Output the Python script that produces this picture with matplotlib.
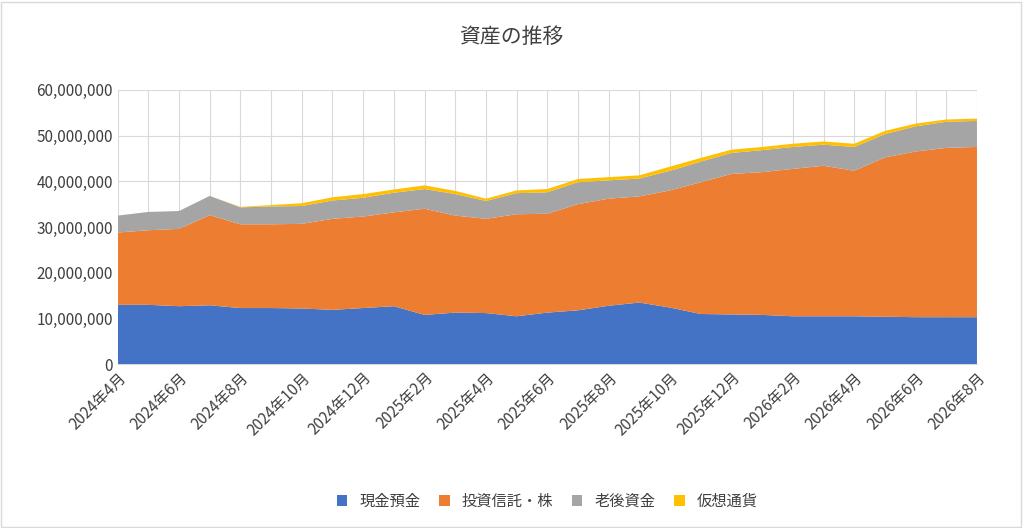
import matplotlib
matplotlib.use("Agg")
import matplotlib.pyplot as plt
import numpy as np

plt.rcParams['font.family'] = ['Noto Sans CJK JP', 'DejaVu Sans']

months = [f"{2024 + (3 + i)//12}年{(3 + i) % 12 + 1}月" for i in range(29)]
cash_top = [13.0,13.0,12.7,12.9,12.3,12.3,12.2,11.9,12.3,12.7,10.8,11.3,11.2,10.5,11.3,11.8,12.8,13.5,12.4,11.0,10.9,10.8,10.5,10.5,10.5,10.4,10.3,10.3,10.3]
invest_top = [28.8,29.3,29.6,32.6,30.6,30.6,30.7,31.8,32.3,33.2,34.0,32.5,31.8,32.8,32.9,35.0,36.2,36.7,38.0,39.8,41.6,42.0,42.7,43.4,42.3,45.2,46.5,47.3,47.5]
pension_top = [32.5,33.3,33.5,36.8,34.3,34.5,34.6,35.8,36.4,37.5,38.3,37.2,35.7,37.4,37.6,39.8,40.2,40.6,42.3,44.3,46.2,46.8,47.5,48.0,47.5,50.3,52.0,53.0,53.2]
crypto_top = [32.5,33.3,33.5,36.8,34.4,34.8,35.2,36.5,37.2,38.2,39.1,37.9,36.2,38.0,38.3,40.5,40.9,41.3,43.2,45.1,46.9,47.5,48.2,48.7,48.2,51.0,52.6,53.5,53.7]
labels = ["現金預金", "投資信託・株", "老後資金", "仮想通貨"]
colors = ["#4472C4", "#ED7D31", "#A5A5A5", "#FFC000"]

tops = np.array([cash_top, invest_top, pension_top, crypto_top]) * 1e6
comps = np.diff(np.vstack([np.zeros(len(months)), tops]), axis=0)

fig = plt.figure(figsize=(10.23, 5.28), dpi=100)
ax = fig.add_axes([0.115, 0.31, 0.84, 0.52])
x = np.arange(len(months))
ax.stackplot(x, comps, labels=labels, colors=colors, zorder=3)
ax.set_xlim(0, len(months) - 1)
ax.set_ylim(0, 60e6)
ax.set_yticks(np.arange(0, 60e6 + 1, 10e6))
ax.set_yticklabels([f"{int(v):,}" for v in np.arange(0, 60e6 + 1, 10e6)], fontsize=11, color="#404040")
ax.set_xticks(x[::2])
ax.set_xticklabels(months[::2], rotation=45, ha="right", rotation_mode="anchor", fontsize=11, color="#404040")
ax.set_xticks(x, minor=True)
ax.grid(True, which="both", color="#D9D9D9", linewidth=0.8, zorder=0)
for s in ax.spines.values():
    s.set_visible(False)
ax.spines['bottom'].set_visible(True)
ax.spines['bottom'].set_color("#D9D9D9")
ax.tick_params(length=0, which="both")
fig.suptitle("資産の推移", y=0.95, fontsize=15, color="#404040")
ax.legend(loc="lower center", bbox_to_anchor=(0.5, -0.58), ncol=4, frameon=False, fontsize=11,
          handlelength=0.7, handleheight=0.7, columnspacing=1.2, labelcolor="#404040")
fig.add_artist(plt.Rectangle((0.001, 0.002), 0.997, 0.995, fill=False, edgecolor="#D9D9D9", transform=fig.transFigure))
fig.savefig("out.png", dpi=100)
